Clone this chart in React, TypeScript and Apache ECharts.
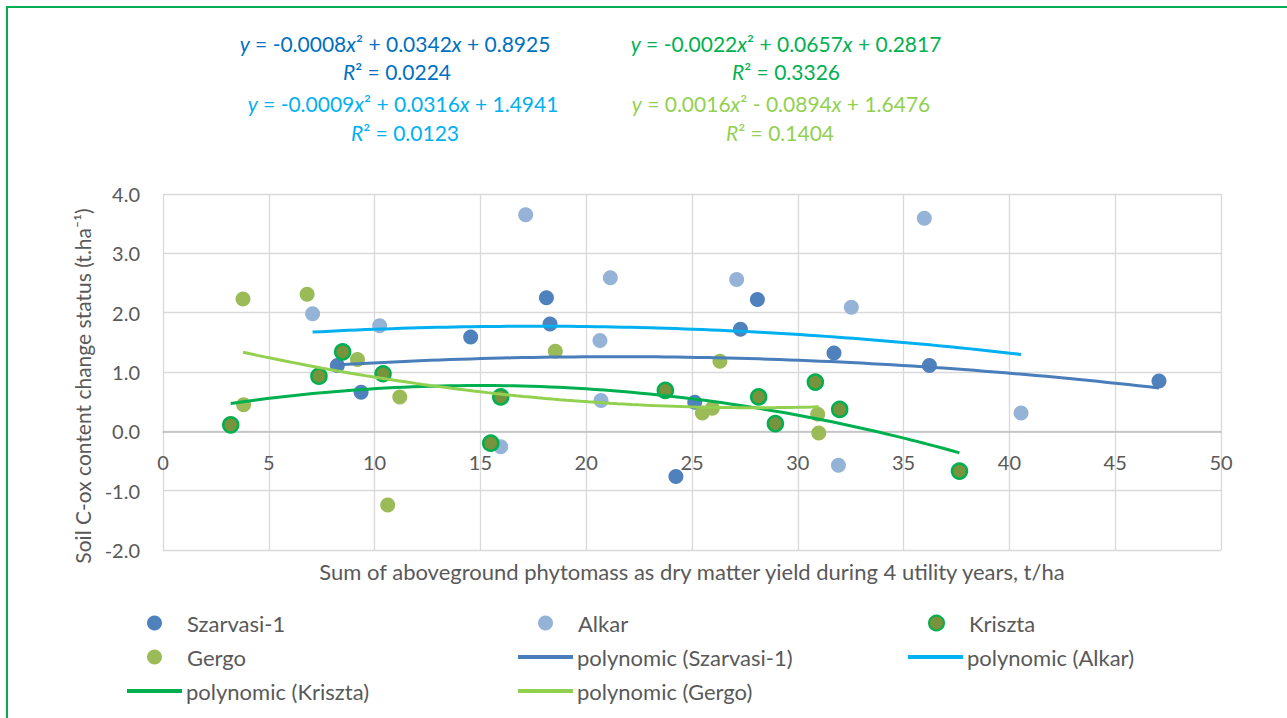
import React, { useEffect, useRef } from "react";
import * as echarts from "echarts";

// Scatter data: dry matter yield (t/ha) vs. soil C-ox change (t/ha)
const szarvasiX = [8.24, 9.36, 14.54, 18.12, 18.29, 24.24, 25.13, 27.29, 28.09, 31.71, 36.22, 47.07];
const szarvasiY = [1.11, 0.66, 1.59, 2.25, 1.81, -0.76, 0.49, 1.72, 2.22, 1.32, 1.11, 0.85];

const alkarX = [7.07, 10.24, 15.96, 17.14, 20.65, 20.7, 21.14, 27.11, 31.92, 32.53, 35.98, 40.55];
const alkarY = [1.98, 1.78, -0.26, 3.65, 1.53, 0.52, 2.59, 2.56, -0.57, 2.09, 3.59, 0.31];

const krisztaX = [3.2, 7.37, 8.49, 10.4, 15.49, 15.96, 23.74, 28.15, 28.94, 30.83, 31.98, 37.64];
const krisztaY = [0.11, 0.93, 1.34, 0.97, -0.2, 0.58, 0.69, 0.58, 0.13, 0.83, 0.37, -0.67];

const gergoX = [3.78, 3.81, 6.81, 9.19, 10.62, 11.19, 18.54, 25.49, 25.96, 26.32, 30.94, 30.99];
const gergoY = [2.23, 0.45, 2.31, 1.21, -1.24, 0.58, 1.35, 0.31, 0.39, 1.18, 0.29, -0.03];

// Second-order polynomial trend coefficients [a, b, c] for y = a*x^2 + b*x + c, and R²
const szarvasiFit = [-0.0008, 0.0342, 0.8925];
const alkarFit = [-0.0009, 0.0316, 1.4941];
const krisztaFit = [-0.0022, 0.0657, 0.2817];
const gergoFit = [0.0016, -0.0894, 1.6476];
const rSquared = [0.0224, 0.0123, 0.3326, 0.1404];

const xTicks = { min: 0, max: 50, interval: 5 };
const yTicks = { min: -2, max: 4, interval: 1 };

const FONT = "Lato";
const TEXT = "#595959";

const GRID = { left: 163, right: 66, top: 194, bottom: 168 };
const CHART_H = 718;

const zip = (xs: number[], ys: number[]) => xs.map((x, i) => [x, ys[i]]);

function trendPoints(xs: number[], fit: number[]) {
  const lo = Math.min(...xs);
  const hi = Math.max(...xs);
  const n = 80;
  const pts: number[][] = [];
  for (let i = 0; i <= n; i++) {
    const x = lo + ((hi - lo) * i) / n;
    pts.push([x, fit[0] * x * x + fit[1] * x + fit[2]]);
  }
  return pts;
}

function signed(v: number, first: boolean) {
  const s = Math.abs(v).toFixed(4);
  if (first) return (v < 0 ? "-" : "") + s;
  return (v < 0 ? " - " : " + ") + s;
}

function equation(fit: number[]) {
  return (
    "{i|y} = " +
    signed(fit[0], true) +
    "{i|x}²" +
    signed(fit[1], false) +
    "{i|x}" +
    signed(fit[2], false)
  );
}

const EQ_SIZE = 21;

function eqText(text: string, x: number, y: number, color: string) {
  return {
    type: "text",
    x,
    y,
    silent: true,
    style: {
      text,
      fill: color,
      fontFamily: FONT,
      fontSize: EQ_SIZE,
      align: "center",
      verticalAlign: "middle",
      rich: {
        i: { fontStyle: "italic", fontFamily: FONT, fontSize: EQ_SIZE, fill: color },
      },
    },
  };
}

const COLORS = {
  szarvasi: "#4F81BD",
  alkar: "#95B3D7",
  kriszta: "#77933C",
  krisztaBorder: "#00B050",
  gergo: "#9BBB59",
  tSzarvasi: "#4A7EBB",
  tAlkar: "#00B0F0",
  tKriszta: "#00B050",
  tGergo: "#92D050",
  eqSzarvasi: "#0070C0",
};

export default function App() {
  const ref = useRef<HTMLDivElement>(null);

  useEffect(() => {
    if (!ref.current) return;
    const chart = echarts.init(ref.current, undefined, { renderer: "svg" });

    const plotH = CHART_H - GRID.top - GRID.bottom;
    // distance from the bottom of the plot up to the y = 0 line
    const zeroShift = (plotH * (0 - yTicks.min)) / (yTicks.max - yTicks.min);

    const legendText = { color: TEXT, fontFamily: FONT, fontSize: 22 };
    const markerLegend = (name: string, left: number, top: number) => ({
      data: [name],
      left,
      top,
      padding: 0,
      orient: "horizontal",
      itemWidth: 15,
      itemHeight: 15,
      textStyle: { ...legendText, padding: [0, 0, 0, 20] },
      selectedMode: false,
    });
    const lineLegend = (name: string, left: number, top: number) => ({
      data: [{ name, icon: "rect" }],
      left,
      top,
      padding: 0,
      orient: "horizontal",
      itemWidth: 55,
      itemHeight: 4,
      textStyle: { ...legendText, padding: [0, 0, 0, -1] },
      selectedMode: false,
    });

    const scatter = (name: string, data: number[][], color: string, border?: string) => ({
      name,
      type: "scatter",
      data,
      symbol: "circle",
      symbolSize: 15,
      itemStyle: border
        ? { color, borderColor: border, borderWidth: 2.5, opacity: 1 }
        : { color, opacity: 1 },
      z: 2,
    });
    const trend = (name: string, data: number[][], color: string) => ({
      name,
      type: "line",
      data,
      showSymbol: false,
      symbol: "none",
      lineStyle: { color, width: 3 },
      itemStyle: { color },
      color,
      z: 3,
    });

    chart.setOption({
      animation: false,
      backgroundColor: "#ffffff",
      grid: { ...GRID, containLabel: false },
      xAxis: {
        type: "value",
        min: xTicks.min,
        max: xTicks.max,
        interval: xTicks.interval,
        offset: -zeroShift,
        name: "Sum of aboveground phytomass as dry matter yield during 4 utility years, t/ha",
        nameLocation: "middle",
        nameGap: zeroShift + 10,
        nameTextStyle: { color: TEXT, fontFamily: FONT, fontSize: 22 },
        axisLine: { onZero: false, lineStyle: { color: "#BFBFBF", width: 1.5 } },
        axisTick: { show: false },
        axisLabel: { color: TEXT, fontFamily: FONT, fontSize: 20, margin: 21 },
        splitLine: { show: true, lineStyle: { color: "#D9D9D9", width: 1.3 } },
      },
      yAxis: {
        type: "value",
        min: yTicks.min,
        max: yTicks.max,
        interval: yTicks.interval,
        axisLine: { show: false },
        axisTick: { show: false },
        axisLabel: {
          color: TEXT,
          fontFamily: FONT,
          fontSize: 20,
          margin: 23,
          formatter: (v: number) => v.toFixed(1),
        },
        splitLine: { show: true, lineStyle: { color: "#D9D9D9", width: 1.3 } },
      },
      legend: [
        markerLegend("Szarvasi-1", 147, 612),
        markerLegend("Alkar", 538, 612),
        markerLegend("Kriszta", 928, 612),
        markerLegend("Gergo", 147, 646),
        lineLegend("polynomic (Szarvasi-1)", 518, 646),
        lineLegend("polynomic (Alkar)", 908, 646),
        lineLegend("polynomic (Kriszta)", 127, 680),
        lineLegend("polynomic (Gergo)", 518, 680),
      ],
      series: [
        scatter("Szarvasi-1", zip(szarvasiX, szarvasiY), COLORS.szarvasi),
        scatter("Alkar", zip(alkarX, alkarY), COLORS.alkar),
        scatter("Kriszta", zip(krisztaX, krisztaY), COLORS.kriszta, COLORS.krisztaBorder),
        scatter("Gergo", zip(gergoX, gergoY), COLORS.gergo),
        trend("polynomic (Szarvasi-1)", trendPoints(szarvasiX, szarvasiFit), COLORS.tSzarvasi),
        trend("polynomic (Alkar)", trendPoints(alkarX, alkarFit), COLORS.tAlkar),
        trend("polynomic (Kriszta)", trendPoints(krisztaX, krisztaFit), COLORS.tKriszta),
        trend("polynomic (Gergo)", trendPoints(gergoX, gergoFit), COLORS.tGergo),
      ],
      graphic: [
        {
          type: "rect",
          silent: true,
          shape: { x: 7, y: 7, width: 1400, height: 800 },
          style: { fill: "none", stroke: "#00B050", lineWidth: 2 },
        },
        {
          type: "text",
          silent: true,
          x: 82,
          y: 386,
          rotation: Math.PI / 2,
          style: {
            text: "Soil C-ox content change status (t.ha⁻¹)",
            fill: TEXT,
            fontFamily: FONT,
            fontSize: 21,
            align: "center",
            verticalAlign: "middle",
          },
        },
        eqText(equation(szarvasiFit), 395, 43, COLORS.eqSzarvasi),
        eqText(`{i|R}² = ${rSquared[0].toFixed(4)}`, 397, 71, COLORS.eqSzarvasi),
        eqText(equation(alkarFit), 403, 103, COLORS.tAlkar),
        eqText(`{i|R}² = ${rSquared[1].toFixed(4)}`, 405, 132, COLORS.tAlkar),
        eqText(equation(krisztaFit), 786, 43, COLORS.tKriszta),
        eqText(`{i|R}² = ${rSquared[2].toFixed(4)}`, 786, 71, COLORS.tKriszta),
        eqText(equation(gergoFit), 781, 103, COLORS.tGergo),
        eqText(`{i|R}² = ${rSquared[3].toFixed(4)}`, 780, 132, COLORS.tGergo),
      ],
    });

    return () => chart.dispose();
  }, []);

  return (
    <div
      ref={ref}
      style={{ position: "fixed", left: 0, top: 0, width: 1287, height: CHART_H }}
    />
  );
}
